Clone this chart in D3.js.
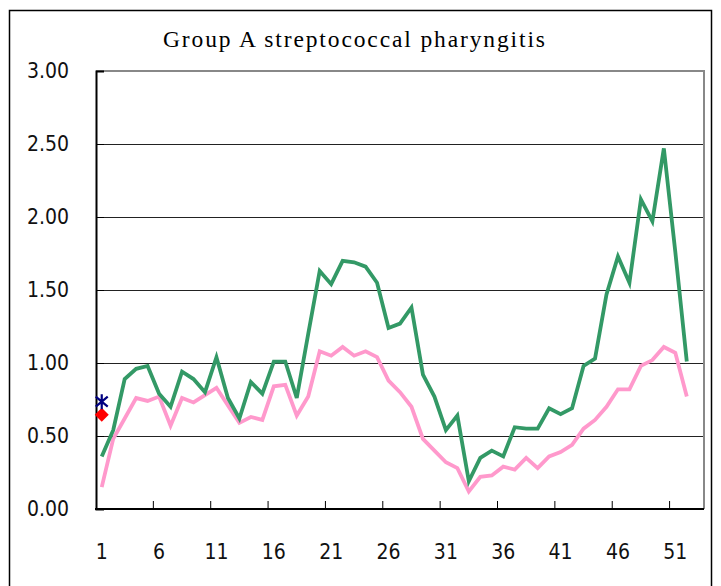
<!DOCTYPE html>
<html>
<head>
<meta charset="utf-8">
<script src="https://cdn.jsdelivr.net/npm/d3@7"></script>
<style>
  body { margin: 0; background: #fff; }
</style>
</head>
<body>
<svg id="chart" width="721" height="586"></svg>
<script>
const title = "Group A streptococcal pharyngitis";

// weeks 1..53 on the category axis, data for 52 weeks
const weeks = d3.range(1, 54);
const tickWeeks = [1, 6, 11, 16, 21, 26, 31, 36, 41, 46, 51];
const yTicks = [0, 0.5, 1, 1.5, 2, 2.5, 3];

const greenSeries = [0.36, 0.54, 0.89, 0.96, 0.98, 0.79, 0.70, 0.94, 0.89, 0.80,
    1.04, 0.76, 0.62, 0.87, 0.79, 1.01, 1.01, 0.76, 1.20, 1.63,
    1.54, 1.70, 1.69, 1.66, 1.55, 1.24, 1.27, 1.38, 0.92, 0.77,
    0.54, 0.64, 0.19, 0.35, 0.40, 0.36, 0.56, 0.55, 0.55, 0.69,
    0.65, 0.69, 0.98, 1.03, 1.47, 1.73, 1.55, 2.12, 1.97, 2.47,
    1.76, 1.01];

const pinkSeries = [0.15, 0.48, 0.62, 0.76, 0.74, 0.77, 0.57, 0.76, 0.73, 0.78,
    0.83, 0.71, 0.59, 0.63, 0.61, 0.84, 0.85, 0.64, 0.77, 1.08,
    1.05, 1.11, 1.05, 1.08, 1.04, 0.88, 0.80, 0.70, 0.48, 0.40,
    0.32, 0.28, 0.12, 0.22, 0.23, 0.29, 0.27, 0.35, 0.28, 0.36,
    0.39, 0.44, 0.55, 0.61, 0.70, 0.82, 0.82, 0.98, 1.02, 1.11,
    1.07, 0.77];

// single points shown at week 1
const starPoint = [0.735];
const diamondPoint = [0.645];

const svg = d3.select("#chart");
const plotL = 96, plotR = 704, plotT = 71, plotB = 509;

const x = d3.scaleBand().domain(weeks).range([plotL, plotR]);
const y = d3.scaleLinear().domain([0, 3]).range([plotB, plotT]);
const cx = w => x(w) + x.bandwidth() / 2;

const labelFont = "'Liberation Sans Narrow', 'DejaVu Sans Condensed', sans-serif";

// --- outer frame ---
svg.append("rect")
    .attr("x", 9.5).attr("y", 10.5)
    .attr("width", 702).attr("height", 620)
    .attr("fill", "#fff")
    .attr("stroke", "#000")
    .attr("stroke-width", 1.5);

// --- title ---
svg.append("text")
    .attr("x", 354).attr("y", 47)
    .attr("text-anchor", "middle")
    .attr("font-family", "'Liberation Serif', 'DejaVu Serif', serif")
    .attr("font-size", 23.5)
    .attr("textLength", 382)
    .attr("lengthAdjust", "spacing")
    .text(title);

// --- gridlines ---
svg.append("g")
    .selectAll("line")
    .data(yTicks.filter(t => t > 0 && t < 3))
    .join("line")
    .attr("x1", plotL).attr("x2", plotR)
    .attr("y1", d => y(d) + 0.5).attr("y2", d => y(d) + 0.5)
    .attr("stroke", "#222")
    .attr("stroke-width", 1);

// top + right border of plot area (gray)
svg.append("path")
    .attr("d", `M${plotL},${plotT}H${plotR}V${plotB}`)
    .attr("fill", "none")
    .attr("stroke", "#888")
    .attr("stroke-width", 2);

// --- Y axis ---
svg.append("g")
    .attr("transform", `translate(${plotL},0)`)
    .call(d3.axisLeft(y).tickValues(yTicks).tickSize(-8).tickPadding(27).tickFormat(d3.format(".2f")))
    .call(g => g.select(".domain").attr("stroke", "#000").attr("stroke-width", 2))
    .call(g => g.selectAll(".tick line").attr("stroke", "#000"))
    .call(g => g.selectAll("text")
        .attr("fill", "#111")
        .attr("font-family", labelFont)
        .attr("font-size", 21));

// --- X axis: ticks between categories every 5 weeks ---
const xAxis = svg.append("g");
xAxis.append("line")
    .attr("x1", plotL - 1).attr("x2", plotR)
    .attr("y1", plotB).attr("y2", plotB)
    .attr("stroke", "#000").attr("stroke-width", 2);

xAxis.selectAll(".tk")
    .data(tickWeeks.slice(1))
    .join("line")
    .attr("class", "tk")
    .attr("x1", d => x(d)).attr("x2", d => x(d))
    .attr("y1", plotB).attr("y2", plotB - 8)
    .attr("stroke", "#000").attr("stroke-width", 1);

xAxis.selectAll("text")
    .data(tickWeeks)
    .join("text")
    .attr("x", d => cx(d))
    .attr("y", 559)
    .attr("text-anchor", "middle")
    .attr("fill", "#111")
    .attr("font-family", labelFont)
    .attr("font-size", 21)
    .text(d => d);

// --- lines ---
const line = d3.line()
    .x((d, i) => cx(weeks[i]))
    .y(d => y(d));

svg.append("path")
    .datum(pinkSeries)
    .attr("fill", "none")
    .attr("stroke", "#ff99cc")
    .attr("stroke-width", 3.8)
    .attr("stroke-linejoin", "miter")
    .attr("d", line);

svg.append("path")
    .datum(greenSeries)
    .attr("fill", "none")
    .attr("stroke", "#339966")
    .attr("stroke-width", 3.8)
    .attr("stroke-linejoin", "miter")
    .attr("d", line);

// --- markers at week 1 ---
svg.selectAll(".diamond")
    .data(diamondPoint)
    .join("path")
    .attr("class", "diamond")
    .attr("transform", d => `translate(${cx(1)},${y(d)})`)
    .attr("d", "M0,-7L7,0L0,7L-7,0Z")
    .attr("fill", "#ff0000");

svg.selectAll(".star")
    .data(starPoint)
    .join("path")
    .attr("class", "star")
    .attr("transform", d => `translate(${cx(1)},${y(d)})`)
    .attr("d", "M0,-7.5V7.5M-6,-5L6,5M-6,5L6,-5")
    .attr("fill", "none")
    .attr("stroke", "#000080")
    .attr("stroke-width", 2.2);
</script>
</body>
</html>
